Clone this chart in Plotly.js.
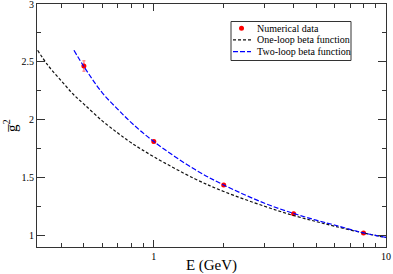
<!DOCTYPE html>
<html>
<head>
<meta charset="utf-8">
<script src="https://cdn.plot.ly/plotly-3.0.1.min.js"></script>
<style>html,body{margin:0;padding:0;background:#fff;}#chart{width:393px;height:274px;}</style>
</head>
<body>
<div id="chart"></div>
<script>
// Numerical data points
var dataE = [0.5, 1, 2, 4, 8];
var dataG2 = [2.464, 1.811, 1.436, 1.187, 1.022];
var dataErr = [0.045, 0.012, 0.01, 0.01, 0.008];

// One-loop beta function curve
var oneE = [0.316, 0.35, 0.4, 0.45, 0.5, 0.6, 0.7, 0.8, 1, 1.5, 2, 3, 4, 5, 6, 8, 10];
var oneG2 = [2.60, 2.47, 2.335, 2.22, 2.135, 1.99, 1.885, 1.80, 1.68, 1.49, 1.38, 1.252, 1.172, 1.12, 1.08, 1.021, 0.982];

// Two-loop beta function curve
var twoE = [0.453, 0.5, 0.6, 0.7, 0.8, 1, 1.5, 2, 3, 4, 5, 6, 8, 10];
var twoG2 = [2.60, 2.46, 2.232, 2.09, 1.975, 1.811, 1.571, 1.436, 1.278, 1.19, 1.132, 1.09, 1.022, 0.983];

// Legend labels
var legendNames = ['Numerical data', 'One-loop beta function', 'Two-loop beta function'];

var serif = 'Liberation Serif, Times New Roman, serif';
var colData = '#ff0000', colOne = '#111111', colTwo = '#0000ff';
var dashOne = '3px,2px', dashTwo = '5px,2px';

var traces = [
  {
    x: dataE, y: dataG2, type: 'scatter', mode: 'markers',
    name: legendNames[0],
    marker: {color: colData, size: 5, symbol: 'circle'},
    error_y: {type: 'data', array: dataErr, visible: true, color: 'rgba(255,110,110,0.75)', thickness: 1.6, width: 1.5}
  },
  {
    x: oneE, y: oneG2, type: 'scatter', mode: 'lines',
    name: legendNames[1],
    line: {color: colOne, width: 1.2, dash: dashOne, shape: 'spline'}
  },
  {
    x: twoE, y: twoG2, type: 'scatter', mode: 'lines',
    name: legendNames[2],
    line: {color: colTwo, width: 1.2, dash: dashTwo, shape: 'spline'}
  }
];

// plot area in pixels, for placing the hand-drawn legend box
var L = 37, R = 7, T = 4, B = 27, W = 393, H = 274;
var pw = W - L - R, ph = H - T - B;
function px(x) { return (x - L) / pw; }
function py(y) { return (H - B - y) / ph; }

var rowY = [28.3, 39.8, 51.7];
var shapes = [
  {type: 'rect', xref: 'paper', yref: 'paper', x0: px(231), x1: px(351), y0: py(60.5), y1: py(21.5),
   line: {color: '#333', width: 1}, fillcolor: '#fff', layer: 'above'},
  {type: 'circle', xref: 'paper', yref: 'paper', x0: px(239), x1: px(244), y0: py(rowY[0] + 2.5), y1: py(rowY[0] - 2.5),
   line: {color: colData, width: 0}, fillcolor: colData, layer: 'above'},
  {type: 'line', xref: 'paper', yref: 'paper', x0: px(233), x1: px(251), y0: py(rowY[1]), y1: py(rowY[1]),
   line: {color: colOne, width: 1.2, dash: dashOne}, layer: 'above'},
  {type: 'line', xref: 'paper', yref: 'paper', x0: px(233), x1: px(251), y0: py(rowY[2]), y1: py(rowY[2]),
   line: {color: colTwo, width: 1.2, dash: dashTwo}, layer: 'above'}
];
var annotations = legendNames.map(function (n, i) {
  return {text: n, xref: 'paper', yref: 'paper', x: px(255), y: py(rowY[i]), xanchor: 'left', yanchor: 'middle',
          showarrow: false, font: {family: serif, size: 10, color: '#000'}};
});

var axisCommon = {
  showgrid: false, zeroline: false, showline: true, linecolor: '#333', linewidth: 1,
  mirror: 'allticks', ticks: 'inside', tickcolor: '#333', tickwidth: 1,
  ticklabeloverflow: 'allow',
  tickfont: {family: serif, size: 10, color: '#000'}
};

var layout = {
  width: W, height: H,
  margin: {l: L, r: R, t: T, b: B},
  paper_bgcolor: '#fff', plot_bgcolor: '#fff',
  showlegend: false,
  shapes: shapes,
  annotations: annotations,
  xaxis: Object.assign({}, axisCommon, {
    type: 'log', range: [-0.503, 1],
    tickvals: [1, 10], ticktext: ['1', '10'], ticklen: 7,
    minor: {ticks: 'inside', ticklen: 4, tickvals: [0.4,0.5,0.6,0.7,0.8,0.9,2,3,4,5,6,7,8,9], tickcolor: '#333'},
    title: {text: 'E (GeV)', font: {family: serif, size: 15, color: '#000'}, standoff: 4}
  }),
  yaxis: Object.assign({}, axisCommon, {
    range: [0.9, 3], dtick: 0.5, tick0: 0, ticklen: 8,
    minor: {ticks: 'inside', ticklen: 4, dtick: 0.25, tickcolor: '#333'},
    title: {text: 'g\u0305<sup>2</sup>', font: {family: serif, size: 15, color: '#000'}, standoff: 0}
  })
};

Plotly.newPlot('chart', traces, layout, {displayModeBar: false, staticPlot: true});
</script>
</body>
</html>
